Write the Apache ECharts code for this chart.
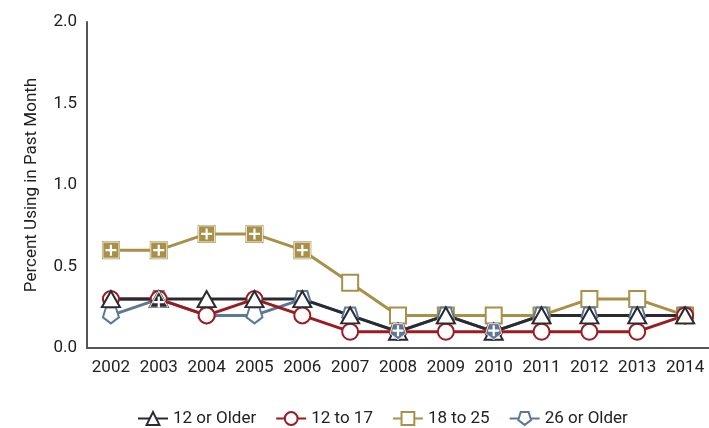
<!DOCTYPE html>
<html>
<head>
<meta charset="utf-8">
<script src="https://cdn.jsdelivr.net/npm/echarts@6/dist/echarts.min.js"></script>
<style>
  html, body { margin: 0; padding: 0; background: #fff; }
  #chart { width: 709px; height: 428px; }
</style>
</head>
<body>
<div id="chart"></div>
<script>
var years = ['2002', '2003', '2004', '2005', '2006', '2007', '2008', '2009', '2010', '2011', '2012', '2013', '2014']
var names = ['12 or Older', '12 to 17', '18 to 25', '26 or Older']
var older12 = [0.3, 0.3, 0.3, 0.3, 0.3, 0.2, 0.1, 0.2, 0.1, 0.2, 0.2, 0.2, 0.2]
var age12to17 = [0.3, 0.3, 0.2, 0.3, 0.2, 0.1, 0.1, 0.1, 0.1, 0.1, 0.1, 0.1, 0.2]
var age18to25 = [0.6, 0.6, 0.7, 0.7, 0.6, 0.4, 0.2, 0.2, 0.2, 0.2, 0.3, 0.3, 0.2]
var older26 = [0.2, 0.3, 0.2, 0.2, 0.3, 0.2, 0.1, 0.2, 0.1, 0.2, 0.2, 0.2, 0.2]
// years marked with "+" (filled marker)
var sigOlder12 = ['2003']
var sig12to17 = []
var sig18to25 = ['2002', '2003', '2004', '2005', '2006']
var sigOlder26 = ['2008', '2010']

var colors = ['#2a2a33', '#9a1c21', '#a99049', '#5d7896']
var values = [older12, age12to17, age18to25, older26]
var sigs = [sigOlder12, sig12to17, sig18to25, sigOlder26]
var font = 'Roboto, "Liberation Sans", sans-serif'

// shapes
var pentagon = 'path://M0,10 L9.5,3.1 L5.9,-8.1 L-5.9,-8.1 L-9.5,3.1 Z'
var plus = 'path://M-1,-5 L1,-5 L1,-1 L5,-1 L5,1 L1,1 L1,5 L-1,5 L-1,1 L-5,1 L-5,-1 L-1,-1 Z'
var symbols = ['triangle', 'circle', 'rect', pentagon]
var sizes = [[18, 16], 16, 16, [16, 16]]
var plusShift = [[0, 3], [0, 0], [0, 0], [0, -1]]

// bottom to top: 18-25, 26+, 12-17, 12+
var drawOrder = [2, 3, 1, 0]
var series = []
drawOrder.forEach(function (i) {
  series.push({
    name: names[i],
    type: 'line',
    data: values[i],
    symbol: symbols[i],
    symbolSize: sizes[i],
    showAllSymbol: true,
    lineStyle: { color: colors[i], width: 3 },
    itemStyle: { color: '#fff', borderColor: colors[i], borderWidth: 2 },
    emphasis: { disabled: true },
    z: 2
  })
})
drawOrder.forEach(function (i) {
  var pts = []
  years.forEach(function (y, k) {
    if (sigs[i].indexOf(y) >= 0) pts.push([k, values[i][k]])
  })
  series.push({
    name: names[i] + ' sig',
    type: 'scatter',
    data: pts,
    symbol: symbols[i],
    symbolSize: sizes[i],
    itemStyle: { color: colors[i], opacity: 1, borderColor: '#ece6d6', borderWidth: 1 },
    emphasis: { disabled: true },
    z: 3
  })
  series.push({
    name: names[i] + ' plus',
    type: 'scatter',
    data: pts,
    symbol: plus,
    symbolSize: 11,
    symbolOffset: plusShift[i],
    itemStyle: { color: '#fff', opacity: 1 },
    emphasis: { disabled: true },
    z: 4
  })
})

var chart = echarts.init(document.getElementById('chart'))
chart.setOption({
  animation: false,
  grid: { left: 87, right: 0, top: 22, bottom: 80 },
  legend: {
    data: names,
    left: 132,
    top: 405,
    itemWidth: 30,
    itemHeight: 16,
    itemGap: 19,
    textStyle: { fontSize: 17, fontFamily: font, color: '#222' }
  },
  xAxis: {
    type: 'category',
    data: years,
    boundaryGap: true,
    axisLine: { lineStyle: { color: '#555', width: 2 } },
    axisTick: { show: false },
    axisLabel: { fontSize: 17, fontFamily: font, color: '#222', margin: 11, interval: 0 }
  },
  yAxis: {
    type: 'value',
    min: 0,
    max: 2,
    interval: 0.5,
    name: 'Percent Using in Past Month',
    nameLocation: 'middle',
    nameGap: 47,
    nameTextStyle: { fontSize: 17, fontFamily: font, color: '#222' },
    axisLine: { show: true, lineStyle: { color: '#555', width: 2 } },
    axisTick: { show: false },
    splitLine: { show: false },
    axisLabel: {
      fontSize: 17, fontFamily: font, color: '#222', margin: 10,
      formatter: function (v) { return v.toFixed(1) }
    }
  },
  series: series
})
</script>
</body>
</html>
